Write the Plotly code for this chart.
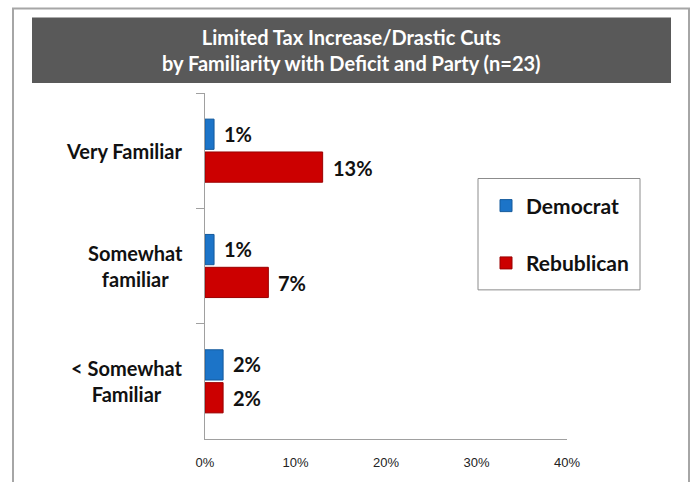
import plotly.graph_objects as go

# Survey shares by familiarity with the deficit, split by party
categories = ["Very Familiar", "Somewhat familiar", "< Somewhat Familiar"]
category_labels = ["Very Familiar", "Somewhat<br>familiar", "< Somewhat<br>Familiar"]
democrat = [0.01, 0.01, 0.02]
republican = [0.13, 0.07, 0.02]
series_names = ["Democrat", "Rebublican"]
x_ticks = [0, 0.1, 0.2, 0.3, 0.4]
x_tick_labels = ["0%", "10%", "20%", "30%", "40%"]

W, H = 696, 482
L, R, T, B = 205, 129, 93, 41
PW, PH = W - L - R, H - T - B


def px_x(v):
    return (v - L) / PW


def px_y(v):
    return (H - B - v) / PH


BLUE = "#1c74c8"
BLUE_EDGE = "#155a9c"
RED = "#cc0000"
RED_EDGE = "#9a0000"
LABEL_FONT = "Lato, 'Open Sans', sans-serif"

fig = go.Figure()
for name, vals, col, edge in [
    (series_names[0], democrat, BLUE, BLUE_EDGE),
    (series_names[1], republican, RED, RED_EDGE),
]:
    fig.add_trace(go.Bar(
        y=categories, x=vals, name=name, orientation="h",
        marker=dict(color=col, line=dict(color=edge, width=1)),
        legendgroup=name,
    ))

annotations = []
# value labels to the right of each bar
for vals, shift in [(democrat, 17), (republican, -17)]:
    for cat, v in zip(categories, vals):
        annotations.append(dict(
            x=v, y=cat, xref="x", yref="y", text=f"<b>{v:.0%}</b>",
            showarrow=False, xanchor="left", yanchor="middle",
            xshift=8, yshift=shift,
            font=dict(family=LABEL_FONT, size=20, color="#111111"),
        ))

# category labels, centred line by line
for cat, lab in zip(categories, category_labels):
    annotations.append(dict(
        x=px_x(185), y=cat, xref="paper", yref="y", text=f"<b>{lab}</b>",
        showarrow=False, xanchor="right", yanchor="middle", align="center",
        font=dict(family=LABEL_FONT, size=20, color="#111111"),
    ))

# title banner text
annotations.append(dict(
    x=px_x(351.5), y=px_y(50), xref="paper", yref="paper",
    text="<b>Limited Tax Increase/Drastic Cuts<br>by Familiarity with Deficit and Party (n=23)</b>",
    showarrow=False, xanchor="center", yanchor="middle", align="center",
    font=dict(family=LABEL_FONT, size=20, color="#ffffff"),
))

shapes = [
    # outer frame
    dict(type="rect", xref="paper", yref="paper",
         x0=px_x(13), x1=px_x(689), y0=px_y(500), y1=px_y(8),
         line=dict(color="#a6a6a6", width=2), fillcolor="rgba(0,0,0,0)", layer="below"),
    # title banner
    dict(type="rect", xref="paper", yref="paper",
         x0=px_x(32), x1=px_x(671), y0=px_y(83), y1=px_y(17),
         line=dict(width=0), fillcolor="#595959", layer="below"),
    # legend box
    dict(type="rect", xref="paper", yref="paper",
         x0=px_x(478), x1=px_x(640), y0=px_y(291), y1=px_y(179),
         line=dict(color="#8c8c8c", width=1), fillcolor="rgba(0,0,0,0)"),
]

fig.update_layout(
    width=W, height=H,
    margin=dict(l=L, r=R, t=T, b=B, pad=0),
    paper_bgcolor="white", plot_bgcolor="white",
    barmode="group", bargap=0.43, bargroupgap=0.08,
    showlegend=True,
    legend=dict(
        x=px_x(486), y=px_y(186), xanchor="left", yanchor="top",
        traceorder="grouped", tracegroupgap=27,
        font=dict(family=LABEL_FONT, size=21, color="#111111", weight="bold"),
        bgcolor="rgba(0,0,0,0)", borderwidth=0,
        itemwidth=30,
    ),
    annotations=annotations,
    shapes=shapes,
    xaxis=dict(
        range=[0, 0.4], tickvals=x_ticks, ticktext=x_tick_labels,
        showgrid=False, zeroline=False, showline=True,
        linecolor="#a0a0a0", linewidth=1, ticks="",
        ticklabelstandoff=11,
        tickfont=dict(family="'Liberation Sans', Arial, sans-serif", size=13, color="#222222"),
        fixedrange=True,
    ),
    yaxis=dict(
        categoryorder="array", categoryarray=categories, autorange="reversed",
        showticklabels=False, showgrid=False, zeroline=False,
        showline=True, linecolor="#a0a0a0", linewidth=1,
        ticks="outside", ticklen=8, tickcolor="#a0a0a0", tickson="boundaries",
        fixedrange=True,
    ),
)

fig.write_html("out.html")
